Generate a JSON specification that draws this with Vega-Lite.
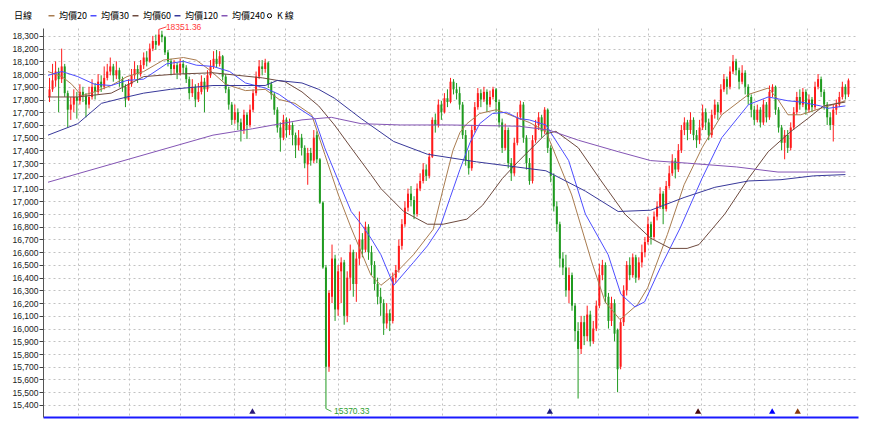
{
"$schema":"https://vega.github.io/schema/vega-lite/v6.json",
"width":815,"height":389,
"autosize":{"type":"none"},
"padding":{"left":43,"top":28,"right":13,"bottom":6},
"background":"#ffffff",
"config":{"view":{"stroke":null},"font":"Liberation Sans",
 "axisY":{"tickCount":30,"labelOverlap":false,"grid":true,"gridDash":[2,3],"gridColor":"#c2c2c2","tickSize":4,"tickColor":"#444444","domainColor":"#555555","labelFont":"Liberation Sans","labelFontSize":8.5,"labelColor":"#222222","labelPadding":1,"title":null},
 "axisX":{"grid":true,"gridDash":[2,3],"gridColor":"#c2c2c2","labels":false,"ticks":false,"domain":true,"domainColor":"#1a1aff","domainWidth":2,"title":null}},
"resolve":{"scale":{"color":"independent"}},
"datasets":{
"k":[
{"i":0,"o":17820,"h":17970,"l":17780,"c":17880},{"i":1,"o":17880,"h":18080,"l":17860,"c":17950},{"i":2,"o":17950,"h":18100,"l":17900,"c":18020},{"i":3,"o":18020,"h":18050,"l":17700,"c":17960},{"i":4,"o":17960,"h":18200,"l":17930,"c":18060},{"i":5,"o":18060,"h":18080,"l":17820,"c":17850},{"i":6,"o":17850,"h":17870,"l":17580,"c":17720},{"i":7,"o":17720,"h":17820,"l":17640,"c":17760},{"i":8,"o":17760,"h":17880,"l":17700,"c":17820},{"i":9,"o":17820,"h":17860,"l":17650,"c":17790},
{"i":10,"o":17790,"h":17920,"l":17760,"c":17860},{"i":11,"o":17860,"h":17900,"l":17780,"c":17830},{"i":12,"o":17830,"h":17850,"l":17660,"c":17760},{"i":13,"o":17760,"h":17900,"l":17730,"c":17820},{"i":14,"o":17820,"h":17960,"l":17800,"c":17900},{"i":15,"o":17900,"h":17930,"l":17800,"c":17860},{"i":16,"o":17860,"h":18000,"l":17840,"c":17940},{"i":17,"o":17940,"h":17990,"l":17860,"c":17900},{"i":18,"o":17900,"h":18060,"l":17880,"c":17970},{"i":19,"o":17970,"h":18080,"l":17950,"c":18020},
{"i":20,"o":18020,"h":18130,"l":17990,"c":18060},{"i":21,"o":18060,"h":18080,"l":17940,"c":17990},{"i":22,"o":17990,"h":18100,"l":17960,"c":18030},{"i":23,"o":18030,"h":18050,"l":17900,"c":17960},{"i":24,"o":17960,"h":17980,"l":17860,"c":17900},{"i":25,"o":17900,"h":17920,"l":17740,"c":17800},{"i":26,"o":17800,"h":17960,"l":17790,"c":17920},{"i":27,"o":17920,"h":18040,"l":17900,"c":17990},{"i":28,"o":17990,"h":18100,"l":17960,"c":18040},{"i":29,"o":18040,"h":18070,"l":17930,"c":18000},
{"i":30,"o":18000,"h":18110,"l":17980,"c":18070},{"i":31,"o":18070,"h":18170,"l":18040,"c":18130},{"i":32,"o":18130,"h":18180,"l":18060,"c":18100},{"i":33,"o":18100,"h":18240,"l":18090,"c":18200},{"i":34,"o":18200,"h":18300,"l":18180,"c":18260},{"i":35,"o":18260,"h":18310,"l":18190,"c":18230},{"i":36,"o":18230,"h":18351.36,"l":18220,"c":18310},{"i":37,"o":18310,"h":18340,"l":18250,"c":18290},{"i":38,"o":18290,"h":18300,"l":18150,"c":18170},{"i":39,"o":18170,"h":18190,"l":18060,"c":18100},
{"i":40,"o":18100,"h":18120,"l":17990,"c":18040},{"i":41,"o":18040,"h":18110,"l":18000,"c":18070},{"i":42,"o":18070,"h":18090,"l":17960,"c":18010},{"i":43,"o":18010,"h":18120,"l":17990,"c":18080},{"i":44,"o":18080,"h":18110,"l":18000,"c":18050},{"i":45,"o":18050,"h":18070,"l":17930,"c":17960},{"i":46,"o":17960,"h":17980,"l":17800,"c":17850},{"i":47,"o":17850,"h":17960,"l":17820,"c":17900},{"i":48,"o":17900,"h":17920,"l":17740,"c":17800},{"i":49,"o":17800,"h":17930,"l":17780,"c":17860},
{"i":50,"o":17860,"h":17990,"l":17840,"c":17940},{"i":51,"o":17940,"h":17970,"l":17700,"c":17880},{"i":52,"o":17880,"h":18030,"l":17860,"c":17990},{"i":53,"o":17990,"h":18110,"l":17970,"c":18060},{"i":54,"o":18060,"h":18180,"l":18040,"c":18120},{"i":55,"o":18120,"h":18190,"l":18050,"c":18080},{"i":56,"o":18080,"h":18180,"l":18060,"c":18140},{"i":57,"o":18140,"h":18150,"l":17950,"c":17980},{"i":58,"o":17980,"h":18000,"l":17850,"c":17880},{"i":59,"o":17880,"h":17900,"l":17720,"c":17760},
{"i":60,"o":17760,"h":17780,"l":17600,"c":17640},{"i":61,"o":17640,"h":17760,"l":17610,"c":17700},{"i":62,"o":17700,"h":17730,"l":17560,"c":17620},{"i":63,"o":17620,"h":17650,"l":17470,"c":17560},{"i":64,"o":17560,"h":17720,"l":17530,"c":17680},{"i":65,"o":17680,"h":17700,"l":17490,"c":17600},{"i":66,"o":17600,"h":17760,"l":17580,"c":17720},{"i":67,"o":17720,"h":17880,"l":17700,"c":17850},{"i":68,"o":17850,"h":18020,"l":17830,"c":17980},{"i":69,"o":17980,"h":18110,"l":17960,"c":18060},
{"i":70,"o":18060,"h":18110,"l":17990,"c":18040},{"i":71,"o":18040,"h":18120,"l":18010,"c":18090},{"i":72,"o":18090,"h":18100,"l":17890,"c":17920},{"i":73,"o":17920,"h":17940,"l":17800,"c":17840},{"i":74,"o":17840,"h":17860,"l":17680,"c":17720},{"i":75,"o":17720,"h":17740,"l":17540,"c":17580},{"i":76,"o":17580,"h":17620,"l":17390,"c":17500},{"i":77,"o":17500,"h":17680,"l":17480,"c":17640},{"i":78,"o":17640,"h":17660,"l":17500,"c":17560},{"i":79,"o":17560,"h":17650,"l":17520,"c":17600},
{"i":80,"o":17600,"h":17620,"l":17440,"c":17520},{"i":81,"o":17520,"h":17540,"l":17340,"c":17440},{"i":82,"o":17440,"h":17560,"l":17400,"c":17500},{"i":83,"o":17500,"h":17530,"l":17360,"c":17420},{"i":84,"o":17420,"h":17440,"l":17260,"c":17300},{"i":85,"o":17290,"h":17420,"l":17130,"c":17380},{"i":86,"o":17380,"h":17420,"l":17280,"c":17320},{"i":87,"o":17320,"h":17560,"l":17300,"c":17500},{"i":88,"o":17520,"h":17550,"l":17300,"c":17330},{"i":89,"o":17330,"h":17340,"l":16980,"c":16990},
{"i":90,"o":16990,"h":17000,"l":16470,"c":16480},{"i":91,"o":16480,"h":16500,"l":15370.33,"c":15700},{"i":92,"o":15700,"h":16300,"l":15660,"c":16280},{"i":93,"o":16250,"h":16660,"l":16200,"c":16550},{"i":94,"o":16550,"h":16580,"l":16060,"c":16150},{"i":95,"o":16150,"h":16500,"l":16100,"c":16450},{"i":96,"o":16450,"h":16560,"l":16200,"c":16520},{"i":97,"o":16520,"h":16540,"l":16030,"c":16100},{"i":98,"o":16100,"h":16450,"l":16050,"c":16400},{"i":99,"o":16400,"h":16660,"l":16300,"c":16600},
{"i":100,"o":16600,"h":16620,"l":16250,"c":16350},{"i":101,"o":16350,"h":16600,"l":16210,"c":16550},{"i":102,"o":16550,"h":16920,"l":16500,"c":16700},{"i":103,"o":16700,"h":16750,"l":16560,"c":16620},{"i":104,"o":16620,"h":16840,"l":16600,"c":16800},{"i":105,"o":16800,"h":16820,"l":16540,"c":16600},{"i":106,"o":16600,"h":16650,"l":16420,"c":16500},{"i":107,"o":16500,"h":16530,"l":16300,"c":16350},{"i":108,"o":16350,"h":16400,"l":16190,"c":16250},{"i":109,"o":16250,"h":16320,"l":16100,"c":16200},
{"i":110,"o":16200,"h":16230,"l":15950,"c":16040},{"i":111,"o":16040,"h":16200,"l":16000,"c":16120},{"i":112,"o":16120,"h":16150,"l":15980,"c":16060},{"i":113,"o":16060,"h":16440,"l":16040,"c":16400},{"i":114,"o":16400,"h":16500,"l":16360,"c":16460},{"i":115,"o":16460,"h":16700,"l":16440,"c":16650},{"i":116,"o":16650,"h":16860,"l":16620,"c":16820},{"i":117,"o":16820,"h":17000,"l":16800,"c":16950},{"i":118,"o":16950,"h":17100,"l":16920,"c":17060},{"i":119,"o":17060,"h":17120,"l":16960,"c":17010},
{"i":120,"o":17010,"h":17040,"l":16860,"c":16900},{"i":121,"o":16900,"h":17140,"l":16880,"c":17100},{"i":122,"o":17100,"h":17220,"l":17080,"c":17160},{"i":123,"o":17160,"h":17300,"l":17140,"c":17250},{"i":124,"o":17250,"h":17290,"l":17160,"c":17200},{"i":125,"o":17200,"h":17380,"l":17180,"c":17350},{"i":126,"o":17350,"h":17660,"l":17340,"c":17640},{"i":127,"o":17640,"h":17690,"l":17540,"c":17600},{"i":128,"o":17600,"h":17800,"l":17580,"c":17760},{"i":129,"o":17760,"h":17790,"l":17640,"c":17700},
{"i":130,"o":17700,"h":17850,"l":17690,"c":17810},{"i":131,"o":17810,"h":17880,"l":17740,"c":17780},{"i":132,"o":17780,"h":17970,"l":17770,"c":17940},{"i":133,"o":17940,"h":17960,"l":17840,"c":17880},{"i":134,"o":17880,"h":17930,"l":17800,"c":17850},{"i":135,"o":17850,"h":17900,"l":17720,"c":17760},{"i":136,"o":17760,"h":17780,"l":17490,"c":17520},{"i":137,"o":17520,"h":17560,"l":17280,"c":17320},{"i":138,"o":17320,"h":17400,"l":17210,"c":17260},{"i":139,"o":17260,"h":17600,"l":17240,"c":17560},
{"i":140,"o":17560,"h":17780,"l":17540,"c":17740},{"i":141,"o":17740,"h":17890,"l":17720,"c":17850},{"i":142,"o":17850,"h":17880,"l":17740,"c":17800},{"i":143,"o":17800,"h":17900,"l":17780,"c":17860},{"i":144,"o":17860,"h":17880,"l":17700,"c":17760},{"i":145,"o":17760,"h":17870,"l":17740,"c":17820},{"i":146,"o":17820,"h":17900,"l":17800,"c":17880},{"i":147,"o":17880,"h":17890,"l":17700,"c":17780},{"i":148,"o":17780,"h":17800,"l":17580,"c":17620},{"i":149,"o":17620,"h":17650,"l":17380,"c":17420},
{"i":150,"o":17420,"h":17610,"l":17400,"c":17560},{"i":151,"o":17560,"h":17580,"l":17260,"c":17300},{"i":152,"o":17300,"h":17340,"l":17160,"c":17220},{"i":153,"o":17220,"h":17500,"l":17200,"c":17460},{"i":154,"o":17460,"h":17700,"l":17440,"c":17660},{"i":155,"o":17660,"h":17790,"l":17640,"c":17760},{"i":156,"o":17760,"h":17780,"l":17460,"c":17500},{"i":157,"o":17500,"h":17520,"l":17250,"c":17300},{"i":158,"o":17300,"h":17340,"l":17130,"c":17160},{"i":159,"o":17160,"h":17520,"l":17140,"c":17480},
{"i":160,"o":17480,"h":17640,"l":17460,"c":17600},{"i":161,"o":17600,"h":17700,"l":17560,"c":17660},{"i":162,"o":17660,"h":17680,"l":17500,"c":17550},{"i":163,"o":17550,"h":17740,"l":17530,"c":17720},{"i":164,"o":17720,"h":17730,"l":17380,"c":17420},{"i":165,"o":17420,"h":17440,"l":17150,"c":17200},{"i":166,"o":17200,"h":17220,"l":16920,"c":16960},{"i":167,"o":16960,"h":17000,"l":16760,"c":16820},{"i":168,"o":16820,"h":16840,"l":16480,"c":16550},{"i":169,"o":16550,"h":16600,"l":16420,"c":16480},
{"i":170,"o":16480,"h":16580,"l":16250,"c":16300},{"i":171,"o":16300,"h":16480,"l":16200,"c":16420},{"i":172,"o":16420,"h":16440,"l":16140,"c":16180},{"i":173,"o":16180,"h":16200,"l":15900,"c":15980},{"i":174,"o":15980,"h":16050,"l":15450,"c":15840},{"i":175,"o":15840,"h":16100,"l":15800,"c":16050},{"i":176,"o":16050,"h":16100,"l":15870,"c":15940},{"i":177,"o":15940,"h":16180,"l":15900,"c":16110},{"i":178,"o":16110,"h":16140,"l":15860,"c":15900},{"i":179,"o":15900,"h":16060,"l":15880,"c":16000},
{"i":180,"o":16000,"h":16220,"l":15980,"c":16180},{"i":181,"o":16180,"h":16510,"l":16160,"c":16420},{"i":182,"o":16420,"h":16540,"l":16380,"c":16500},{"i":183,"o":16500,"h":16520,"l":16200,"c":16250},{"i":184,"o":16250,"h":16280,"l":16000,"c":16060},{"i":185,"o":16060,"h":16250,"l":16020,"c":16200},{"i":186,"o":16200,"h":16230,"l":15900,"c":15960},{"i":187,"o":15990,"h":16000,"l":15500,"c":15680},{"i":188,"o":15700,"h":16080,"l":15680,"c":16050},{"i":189,"o":16050,"h":16340,"l":16020,"c":16300},
{"i":190,"o":16300,"h":16530,"l":16260,"c":16500},{"i":191,"o":16500,"h":16560,"l":16380,"c":16420},{"i":192,"o":16420,"h":16590,"l":16400,"c":16560},{"i":193,"o":16560,"h":16580,"l":16360,"c":16400},{"i":194,"o":16400,"h":16560,"l":16380,"c":16520},{"i":195,"o":16520,"h":16660,"l":16480,"c":16600},{"i":196,"o":16600,"h":16720,"l":16560,"c":16680},{"i":197,"o":16680,"h":16880,"l":16660,"c":16820},{"i":198,"o":16820,"h":16840,"l":16660,"c":16720},{"i":199,"o":16720,"h":16920,"l":16700,"c":16880},
{"i":200,"o":16880,"h":17000,"l":16850,"c":16960},{"i":201,"o":16960,"h":17110,"l":16940,"c":17060},{"i":202,"o":17060,"h":17080,"l":16820,"c":16940},{"i":203,"o":16940,"h":17160,"l":16920,"c":17120},{"i":204,"o":17120,"h":17280,"l":17100,"c":17220},{"i":205,"o":17220,"h":17370,"l":17200,"c":17320},{"i":206,"o":17320,"h":17340,"l":17180,"c":17250},{"i":207,"o":17250,"h":17450,"l":17230,"c":17400},{"i":208,"o":17400,"h":17600,"l":17380,"c":17560},{"i":209,"o":17560,"h":17660,"l":17520,"c":17620},
{"i":210,"o":17620,"h":17640,"l":17480,"c":17560},{"i":211,"o":17560,"h":17700,"l":17530,"c":17640},{"i":212,"o":17640,"h":17660,"l":17480,"c":17520},{"i":213,"o":17520,"h":17560,"l":17420,"c":17480},{"i":214,"o":17480,"h":17640,"l":17450,"c":17580},{"i":215,"o":17580,"h":17760,"l":17560,"c":17700},{"i":216,"o":17700,"h":17730,"l":17560,"c":17620},{"i":217,"o":17620,"h":17650,"l":17480,"c":17520},{"i":218,"o":17520,"h":17720,"l":17500,"c":17680},{"i":219,"o":17680,"h":17800,"l":17650,"c":17760},
{"i":220,"o":17760,"h":17780,"l":17640,"c":17700},{"i":221,"o":17700,"h":17920,"l":17680,"c":17880},{"i":222,"o":17880,"h":18000,"l":17860,"c":17960},{"i":223,"o":17960,"h":17980,"l":17840,"c":17900},{"i":224,"o":17900,"h":18060,"l":17880,"c":18020},{"i":225,"o":18020,"h":18150,"l":18000,"c":18100},{"i":226,"o":18100,"h":18120,"l":17990,"c":18030},{"i":227,"o":18030,"h":18050,"l":17880,"c":17940},{"i":228,"o":17940,"h":18070,"l":17920,"c":18010},{"i":229,"o":18010,"h":18030,"l":17840,"c":17900},
{"i":230,"o":17900,"h":17920,"l":17760,"c":17820},{"i":231,"o":17820,"h":17840,"l":17660,"c":17720},{"i":232,"o":17720,"h":17750,"l":17600,"c":17640},{"i":233,"o":17640,"h":17760,"l":17620,"c":17720},{"i":234,"o":17720,"h":17740,"l":17580,"c":17620},{"i":235,"o":17620,"h":17800,"l":17600,"c":17760},{"i":236,"o":17760,"h":17780,"l":17620,"c":17660},{"i":237,"o":17660,"h":17910,"l":17640,"c":17860},{"i":238,"o":17860,"h":17920,"l":17820,"c":17900},{"i":239,"o":17900,"h":17910,"l":17680,"c":17720},
{"i":240,"o":17720,"h":17740,"l":17540,"c":17580},{"i":241,"o":17580,"h":17600,"l":17400,"c":17460},{"i":242,"o":17460,"h":17560,"l":17330,"c":17520},{"i":243,"o":17520,"h":17560,"l":17380,"c":17420},{"i":244,"o":17420,"h":17620,"l":17400,"c":17580},{"i":245,"o":17580,"h":17740,"l":17560,"c":17700},{"i":246,"o":17700,"h":17860,"l":17680,"c":17820},{"i":247,"o":17820,"h":17880,"l":17720,"c":17760},{"i":248,"o":17760,"h":17890,"l":17740,"c":17860},{"i":249,"o":17860,"h":17880,"l":17680,"c":17720},
{"i":250,"o":17720,"h":17840,"l":17700,"c":17800},{"i":251,"o":17800,"h":17820,"l":17700,"c":17740},{"i":252,"o":17740,"h":17940,"l":17720,"c":17900},{"i":253,"o":17900,"h":18000,"l":17880,"c":17960},{"i":254,"o":17960,"h":17980,"l":17820,"c":17860},{"i":255,"o":17860,"h":17880,"l":17720,"c":17760},{"i":256,"o":17760,"h":17780,"l":17600,"c":17660},{"i":257,"o":17660,"h":17700,"l":17560,"c":17600},{"i":258,"o":17600,"h":17760,"l":17470,"c":17720},{"i":259,"o":17720,"h":17800,"l":17680,"c":17760},
{"i":260,"o":17760,"h":17860,"l":17740,"c":17820},{"i":261,"o":17820,"h":17940,"l":17800,"c":17900},{"i":262,"o":17900,"h":17920,"l":17800,"c":17840},{"i":263,"o":17840,"h":17965,"l":17820,"c":17950}
],
"ma":[
{"s":"均價20","i":-0.5,"v":18020},{"s":"均價20","i":4.1,"v":17980},{"s":"均價20","i":7.3,"v":17920},{"s":"均價20","i":10.6,"v":17830},{"s":"均價20","i":14.8,"v":17860},{"s":"均價20","i":20.3,"v":17910},{"s":"均價20","i":25.5,"v":17980},{"s":"均價20","i":31,"v":18020},{"s":"均價20","i":37.5,"v":18110},{"s":"均價20","i":44.1,"v":18130},{"s":"均價20","i":48.3,"v":18110},{"s":"均價20","i":52.8,"v":18030},{"s":"均價20","i":58,"v":17920},{"s":"均價20","i":64.5,"v":17870},{"s":"均價20","i":71,"v":17880},{"s":"均價20","i":75.6,"v":17800},{"s":"均價20","i":80.8,"v":17770},{"s":"均價20","i":86.3,"v":17680},{"s":"均價20","i":90.6,"v":17370},{"s":"均價20","i":95.1,"v":17050},{"s":"均價20","i":99.3,"v":16790},{"s":"均價20","i":105.8,"v":16420},{"s":"均價20","i":109.1,"v":16340},{"s":"均價20","i":113.3,"v":16420},{"s":"均價20","i":119.8,"v":16580},{"s":"均價20","i":126.3,"v":16780},{"s":"均價20","i":129.6,"v":17100},{"s":"均價20","i":132.8,"v":17400},{"s":"均價20","i":135.1,"v":17540},{"s":"均價20","i":137.4,"v":17610},{"s":"均價20","i":141.6,"v":17690},{"s":"均價20","i":147.1,"v":17720},{"s":"均價20","i":153.6,"v":17660},{"s":"均價20","i":157.9,"v":17620},{"s":"均價20","i":163.4,"v":17550},{"s":"均價20","i":171.9,"v":17050},{"s":"均價20","i":178.4,"v":16530},{"s":"均價20","i":182.9,"v":16210},{"s":"均價20","i":187.8,"v":16070},{"s":"均價20","i":193.6,"v":16190},{"s":"均價20","i":196.9,"v":16320},{"s":"均價20","i":203.4,"v":16740},{"s":"均價20","i":208.9,"v":17130},{"s":"均價20","i":214.8,"v":17420},{"s":"均價20","i":221.3,"v":17680},{"s":"均價20","i":230.1,"v":17840},{"s":"均價20","i":236.6,"v":17890},{"s":"均價20","i":239.8,"v":17800},{"s":"均價20","i":243.1,"v":17680},{"s":"均價20","i":247.3,"v":17680},{"s":"均價20","i":253.8,"v":17730},{"s":"均價20","i":262,"v":17790},
{"s":"均價30","i":-0.5,"v":17990},{"s":"均價30","i":4.1,"v":18020},{"s":"均價30","i":9.3,"v":17980},{"s":"均價30","i":14.8,"v":17920},{"s":"均價30","i":20.3,"v":17910},{"s":"均價30","i":25.5,"v":17950},{"s":"均價30","i":31,"v":17960},{"s":"均價30","i":38.5,"v":18080},{"s":"均價30","i":44.1,"v":18100},{"s":"均價30","i":48.3,"v":18070},{"s":"均價30","i":53.8,"v":18060},{"s":"均價30","i":59.3,"v":18020},{"s":"均價30","i":64.5,"v":17930},{"s":"均價30","i":71,"v":17890},{"s":"均價30","i":75.6,"v":17840},{"s":"均價30","i":82.1,"v":17730},{"s":"均價30","i":87.3,"v":17650},{"s":"均價30","i":90.6,"v":17420},{"s":"均價30","i":95.1,"v":17160},{"s":"均價30","i":99.3,"v":16920},{"s":"均價30","i":102.6,"v":16820},{"s":"均價30","i":105.8,"v":16710},{"s":"均價30","i":109.1,"v":16580},{"s":"均價30","i":113.3,"v":16340},{"s":"均價30","i":119.8,"v":16520},{"s":"均價30","i":124.4,"v":16650},{"s":"均價30","i":128.6,"v":16800},{"s":"均價30","i":131.9,"v":17030},{"s":"均價30","i":135.1,"v":17250},{"s":"均價30","i":138.4,"v":17460},{"s":"均價30","i":141.6,"v":17610},{"s":"均價30","i":145.8,"v":17690},{"s":"均價30","i":150.4,"v":17700},{"s":"均價30","i":154.6,"v":17650},{"s":"均價30","i":157.9,"v":17640},{"s":"均價30","i":163.4,"v":17600},{"s":"均價30","i":170.9,"v":17320},{"s":"均價30","i":176.4,"v":16900},{"s":"均價30","i":183.9,"v":16580},{"s":"均價30","i":188.1,"v":16270},{"s":"均價30","i":192.7,"v":16170},{"s":"均價30","i":195.9,"v":16210},{"s":"均價30","i":201.1,"v":16480},{"s":"均價30","i":207.6,"v":16790},{"s":"均價30","i":214.8,"v":17180},{"s":"均價30","i":221.3,"v":17500},{"s":"均價30","i":230.1,"v":17760},{"s":"均價30","i":236.6,"v":17820},{"s":"均價30","i":243.1,"v":17790},{"s":"均價30","i":247.3,"v":17780},{"s":"均價30","i":253.8,"v":17750},{"s":"均價30","i":256.1,"v":17730},{"s":"均價30","i":262,"v":17750},
{"s":"均價60","i":-0.5,"v":17820},{"s":"均價60","i":9.3,"v":17820},{"s":"均價60","i":20.3,"v":17850},{"s":"均價60","i":31,"v":17980},{"s":"均價60","i":41.8,"v":18000},{"s":"均價60","i":53.8,"v":18010},{"s":"均價60","i":70.1,"v":17970},{"s":"均價60","i":77.5,"v":17940},{"s":"均價60","i":83.1,"v":17860},{"s":"均價60","i":88.6,"v":17750},{"s":"均價60","i":93.8,"v":17600},{"s":"均價60","i":99.3,"v":17420},{"s":"均價60","i":105.8,"v":17210},{"s":"均價60","i":109.1,"v":17100},{"s":"均價60","i":116.6,"v":16920},{"s":"均價60","i":124.4,"v":16820},{"s":"均價60","i":129.6,"v":16820},{"s":"均價60","i":137.4,"v":16860},{"s":"均價60","i":142.6,"v":16970},{"s":"均價60","i":149.1,"v":17180},{"s":"均價60","i":154.6,"v":17320},{"s":"均價60","i":163.4,"v":17530},{"s":"均價60","i":166.7,"v":17550},{"s":"均價60","i":174.1,"v":17420},{"s":"均價60","i":181.6,"v":17160},{"s":"均價60","i":189.4,"v":16900},{"s":"均價60","i":197.9,"v":16710},{"s":"均價60","i":204.4,"v":16630},{"s":"均價60","i":209.9,"v":16630},{"s":"均價60","i":213.8,"v":16660},{"s":"均價60","i":222.3,"v":16900},{"s":"均價60","i":230.1,"v":17180},{"s":"均價60","i":236.6,"v":17390},{"s":"均價60","i":244.1,"v":17550},{"s":"均價60","i":249.6,"v":17650},{"s":"均價60","i":254.8,"v":17750},{"s":"均價60","i":262,"v":17780},
{"s":"均價120","i":-0.5,"v":17520},{"s":"均價120","i":9.3,"v":17610},{"s":"均價120","i":17.1,"v":17770},{"s":"均價120","i":25.5,"v":17820},{"s":"均價120","i":31,"v":17850},{"s":"均價120","i":39.8,"v":17880},{"s":"均價120","i":53.8,"v":17910},{"s":"均價120","i":71,"v":17910},{"s":"均價120","i":75,"v":17950},{"s":"均價120","i":83.1,"v":17930},{"s":"均價120","i":88.6,"v":17880},{"s":"均價120","i":93.8,"v":17810},{"s":"均價120","i":99.3,"v":17710},{"s":"均價120","i":102.6,"v":17650},{"s":"均價120","i":113.3,"v":17470},{"s":"均價120","i":124.4,"v":17370},{"s":"均價120","i":140.6,"v":17310},{"s":"均價120","i":156.9,"v":17260},{"s":"均價120","i":163.4,"v":17240},{"s":"均價120","i":176.4,"v":17080},{"s":"均價120","i":187.2,"v":16920},{"s":"均價120","i":197.9,"v":16930},{"s":"均價120","i":208.9,"v":17030},{"s":"均價120","i":219,"v":17110},{"s":"均價120","i":230.1,"v":17160},{"s":"均價120","i":240.8,"v":17170},{"s":"均價120","i":251.5,"v":17200},{"s":"均價120","i":262,"v":17210},
{"s":"均價240","i":-0.5,"v":17150},{"s":"均價240","i":53.8,"v":17520},{"s":"均價240","i":66.8,"v":17570},{"s":"均價240","i":83.1,"v":17640},{"s":"均價240","i":92.8,"v":17660},{"s":"均價240","i":102.6,"v":17610},{"s":"均價240","i":115.6,"v":17600},{"s":"均價240","i":131.9,"v":17600},{"s":"均價240","i":154.6,"v":17590},{"s":"均價240","i":164.4,"v":17560},{"s":"均價240","i":174.1,"v":17480},{"s":"均價240","i":187.2,"v":17390},{"s":"均價240","i":197.9,"v":17320},{"s":"均價240","i":209.9,"v":17300},{"s":"均價240","i":226.2,"v":17270},{"s":"均價240","i":239.8,"v":17230},{"s":"均價240","i":262,"v":17230}
],
"sig":[{"i":66.8,"k":"a"},{"i":164.7,"k":"b"},{"i":213.5,"k":"c"},{"i":237.9,"k":"d"},{"i":246.3,"k":"e"}],
"ann":[{"i":36,"v":18351.36,"t":"18351.36"},{"i":91,"v":15370.33,"t":"15370.33"}]
},
"encoding":{
 "x":{"field":"i","type":"quantitative","scale":{"domain":[-0.5,264.5],"nice":false,"zero":false},
  "axis":{"title":null,"values":[9.26,26.2,43.1,60.6,77.4,95.1,112,129.3,147.1,165,180.6,196.9,214.5,232,249.3]}}
},
"layer":[
{"data":{"name":"k"},"mark":{"type":"rule","strokeWidth":1,"clip":true},
 "encoding":{
  "y":{"field":"l","type":"quantitative","scale":{"domain":[15305,18362],"nice":false,"zero":false},
   "axis":{"title":null,"format":",d","labelOverlap":false}},
  "y2":{"field":"h"},
  "color":{"condition":{"test":"datum.c >= datum.o","value":"#ff1a1a"},"value":"#1f9a1f"}
 }},
{"data":{"name":"k"},"mark":{"type":"bar","size":2,"clip":true},
 "encoding":{
  "y":{"field":"o","type":"quantitative"},
  "y2":{"field":"c"},
  "color":{"condition":{"test":"datum.c >= datum.o","value":"#ff1a1a"},"value":"#1f9a1f"}
 }},
{"data":{"name":"ma"},"mark":{"type":"line","strokeWidth":1,"clip":true},
 "encoding":{
  "y":{"field":"v","type":"quantitative"},
  "color":{"field":"s","type":"nominal",
   "scale":{"domain":["均價20","均價30","均價60","均價120","均價240","K 線"],"range":["#a97c50","#4d4dff","#6e4a3e","#38389a","#8455b5","#000000"]},
   "legend":{"title":"日線","orient":"none","legendX":-29,"legendY":-17,"direction":"horizontal","titleOrient":"left","titleFont":"Noto Sans CJK TC","titleFontSize":9,"titleFontWeight":"normal","titleColor":"#000000","titlePadding":14,"labelFont":"Noto Sans CJK TC","labelFontSize":9,"labelColor":"#000000","labelOffset":3,"columnPadding":0,"symbolType":"stroke","symbolSize":36,"symbolStrokeWidth":1.5,"padding":0,
    "encode":{"symbols":{"update":{"shape":{"signal":"datum.value === 'K 線' ? 'circle' : 'stroke'"},"size":{"signal":"datum.value === 'K 線' ? 18 : 36"},"strokeWidth":{"signal":"datum.value === 'K 線' ? 1 : 1.5"}}}}}}
 }},
{"data":{"name":"sig"},"mark":{"type":"point","shape":"triangle-up","filled":true,"size":40,"opacity":1},
 "encoding":{
  "y":{"datum":15352},
  "color":{"field":"k","type":"nominal","scale":{"domain":["a","b","c","d","e"],"range":["#2b1b7b","#1b1b7b","#4b0b0b","#0000ff","#8b3b0b"]},"legend":null}
 }},
{"data":{"name":"ann"},"transform":[{"filter":"datum.v > 17000"}],"mark":{"type":"rule","color":"#ff4040","strokeWidth":1},
 "encoding":{"y":{"field":"v","type":"quantitative"},"x2":{"datum":38.5},"y2":{"datum":18371}}},
{"data":{"name":"ann"},"transform":[{"filter":"datum.v > 17000"}],"mark":{"type":"text","align":"left","baseline":"middle","dx":7,"dy":-2,"fontSize":8.5,"font":"Liberation Sans","color":"#ff3b3b"},
 "encoding":{"y":{"field":"v","type":"quantitative"},"text":{"field":"t"}}},
{"data":{"name":"ann"},"transform":[{"filter":"datum.v < 17000"}],"mark":{"type":"rule","color":"#4caf4c","strokeWidth":1},
 "encoding":{"y":{"field":"v","type":"quantitative"},"x2":{"datum":92.8},"y2":{"datum":15349}}},
{"data":{"name":"ann"},"transform":[{"filter":"datum.v < 17000"}],"mark":{"type":"text","align":"left","baseline":"middle","dx":8,"dy":2.5,"fontSize":8.5,"font":"Liberation Sans","color":"#2e9e2e"},
 "encoding":{"y":{"field":"v","type":"quantitative"},"text":{"field":"t"}}}
]
}
